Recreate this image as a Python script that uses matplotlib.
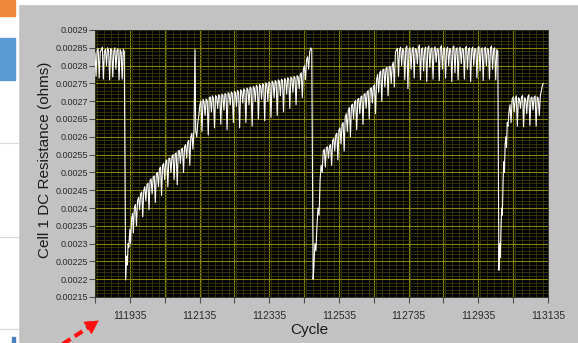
import numpy as np
import matplotlib
matplotlib.use('Agg')
import matplotlib.pyplot as plt
from matplotlib.patches import Rectangle
from matplotlib.lines import Line2D

plt.rcParams['font.family'] = ['Liberation Sans', 'DejaVu Sans']

# resistance in micro-ohms (cycle, value)
first_plateau = [
    (111835, 2835), (111838, 2770), (111841, 2842), (111844, 2848), (111847, 2765),
    (111850, 2838), (111853, 2845), (111856, 2852), (111859, 2762), (111862, 2840),
    (111865, 2846), (111868, 2800), (111871, 2850), (111874, 2842), (111877, 2760),
    (111880, 2848), (111883, 2845), (111886, 2768), (111889, 2840), (111892, 2850),
    (111895, 2790), (111898, 2843), (111901, 2847), (111904, 2760), (111907, 2845),
    (111910, 2838), (111913, 2762), (111916, 2846), (111919, 2840),
]

first_recovery = [
    (111923, 2198), (111926, 2265), (111928, 2240), (111930, 2300), (111932, 2290),
    (111935, 2340), (111937, 2300), (111940, 2370), (111943, 2385), (111945, 2330),
    (111948, 2400), (111951, 2410), (111954, 2350), (111957, 2420), (111960, 2430),
    (111963, 2395), (111966, 2440), (111969, 2445), (111972, 2375), (111975, 2450),
    (111978, 2460), (111981, 2420), (111984, 2465), (111987, 2470), (111990, 2395),
    (111993, 2478), (111996, 2482), (111999, 2440), (112002, 2488), (112005, 2490),
    (112008, 2415), (112011, 2495), (112014, 2500), (112017, 2460), (112020, 2510),
    (112023, 2515), (112026, 2435), (112029, 2520), (112032, 2525), (112035, 2480),
    (112038, 2530), (112041, 2535), (112044, 2460), (112047, 2540), (112050, 2540),
    (112053, 2500), (112056, 2545), (112059, 2550), (112062, 2480), (112065, 2552),
    (112068, 2555), (112071, 2465), (112074, 2560), (112077, 2562), (112080, 2525),
    (112083, 2565), (112086, 2568), (112089, 2500), (112092, 2572), (112095, 2578),
    (112098, 2540), (112101, 2585), (112104, 2590), (112107, 2520), (112110, 2600),
    (112113, 2610), (112116, 2565), (112119, 2620), (112122, 2845),
]

second_plateau = [
    (112124, 2615), (112127, 2600), (112130, 2640), (112133, 2660), (112136, 2690),
    (112139, 2700), (112142, 2615), (112145, 2705), (112148, 2698), (112151, 2660),
    (112154, 2706), (112157, 2702), (112160, 2605), (112163, 2710), (112166, 2712),
    (112169, 2670), (112172, 2715), (112175, 2708), (112178, 2625), (112181, 2716),
    (112184, 2712), (112187, 2680), (112190, 2718), (112193, 2715), (112196, 2635),
    (112199, 2720), (112202, 2716), (112205, 2675), (112208, 2722), (112211, 2718),
    (112214, 2620), (112217, 2724), (112220, 2720), (112223, 2690), (112226, 2726),
    (112229, 2722), (112232, 2640), (112235, 2728), (112238, 2724), (112241, 2685),
    (112244, 2730), (112247, 2726), (112250, 2625), (112253, 2732), (112256, 2728),
    (112259, 2695), (112262, 2735), (112265, 2730), (112268, 2640), (112271, 2737),
    (112274, 2733), (112277, 2690), (112280, 2740), (112283, 2736), (112286, 2630),
    (112289, 2742), (112292, 2738), (112295, 2700), (112298, 2745), (112301, 2740),
    (112304, 2650), (112307, 2747), (112310, 2743), (112313, 2705), (112316, 2750),
    (112319, 2745), (112322, 2645), (112325, 2752), (112328, 2748), (112331, 2700),
    (112334, 2754), (112337, 2750), (112340, 2655), (112343, 2756), (112346, 2752),
    (112349, 2710), (112352, 2758), (112355, 2754), (112358, 2660), (112361, 2760),
    (112364, 2756), (112367, 2715), (112370, 2762), (112373, 2758), (112376, 2670),
    (112379, 2764), (112382, 2760), (112385, 2720), (112388, 2766), (112391, 2762),
    (112394, 2680), (112397, 2768), (112400, 2764), (112403, 2725), (112406, 2770),
    (112409, 2766), (112412, 2690), (112415, 2772), (112418, 2768), (112421, 2735),
    (112424, 2775), (112427, 2780), (112430, 2710), (112433, 2790), (112436, 2800),
    (112439, 2760), (112442, 2815), (112445, 2825), (112448, 2790), (112451, 2838),
    (112454, 2850), (112457, 2845),
]

second_recovery = [
    (112461, 2200), (112463, 2230), (112466, 2300), (112469, 2280), (112472, 2350),
    (112475, 2400), (112478, 2380), (112481, 2480), (112484, 2520), (112487, 2500),
    (112490, 2560), (112493, 2565), (112496, 2515), (112499, 2570), (112502, 2572),
    (112505, 2540), (112508, 2575), (112511, 2578), (112514, 2520), (112517, 2590),
    (112520, 2595), (112523, 2560), (112526, 2605), (112529, 2610), (112532, 2535),
    (112535, 2620), (112538, 2625), (112541, 2580), (112544, 2635), (112547, 2640),
    (112550, 2560), (112553, 2655), (112556, 2665), (112559, 2615), (112562, 2675),
    (112565, 2682), (112568, 2600), (112571, 2688), (112574, 2692), (112577, 2650),
    (112580, 2698), (112583, 2702), (112586, 2620), (112589, 2705), (112592, 2708),
    (112595, 2665), (112598, 2712), (112601, 2715), (112604, 2635), (112607, 2718),
    (112610, 2722), (112613, 2680), (112616, 2726), (112619, 2730), (112622, 2650),
    (112625, 2734), (112628, 2738), (112631, 2695), (112634, 2742), (112637, 2746),
    (112640, 2665), (112643, 2760), (112646, 2775), (112649, 2725), (112652, 2780),
    (112655, 2785), (112658, 2700), (112661, 2788), (112664, 2790), (112667, 2740),
    (112670, 2792), (112673, 2795), (112676, 2715), (112679, 2796), (112682, 2798),
    (112685, 2750), (112688, 2800), (112691, 2810), (112694, 2740), (112697, 2835),
    (112700, 2845),
]

third_plateau = [
    (112703, 2848), (112706, 2770), (112709, 2845), (112712, 2852), (112715, 2800),
    (112718, 2848), (112721, 2842), (112724, 2760), (112727, 2850), (112730, 2855),
    (112733, 2735), (112736, 2846), (112739, 2850), (112742, 2790), (112745, 2844),
    (112748, 2852), (112751, 2765), (112754, 2848), (112757, 2845), (112760, 2805),
    (112763, 2850), (112766, 2858), (112769, 2760), (112772, 2846), (112775, 2850),
    (112778, 2785), (112781, 2845), (112784, 2852), (112787, 2755), (112790, 2848),
    (112793, 2855), (112796, 2795), (112799, 2846), (112802, 2850), (112805, 2762),
    (112808, 2844), (112811, 2853), (112814, 2810), (112817, 2848), (112820, 2845),
    (112823, 2758), (112826, 2850), (112829, 2856), (112832, 2790), (112835, 2847),
    (112838, 2850), (112841, 2765), (112844, 2845), (112847, 2852), (112850, 2800),
    (112853, 2848), (112856, 2844), (112859, 2755), (112862, 2850), (112865, 2855),
    (112868, 2780), (112871, 2846), (112874, 2850), (112877, 2760), (112880, 2845),
    (112883, 2852), (112886, 2805), (112889, 2848), (112892, 2845), (112895, 2762),
    (112898, 2850), (112901, 2854), (112904, 2790), (112907, 2847), (112910, 2850),
    (112913, 2755), (112916, 2845), (112919, 2852), (112922, 2800), (112925, 2848),
    (112928, 2845), (112931, 2765), (112934, 2850), (112937, 2853), (112940, 2785),
    (112943, 2846), (112946, 2850), (112949, 2758), (112952, 2845), (112955, 2852),
    (112958, 2800), (112961, 2848), (112964, 2845), (112967, 2762), (112970, 2850),
    (112973, 2855), (112976, 2790), (112979, 2846), (112982, 2850), (112985, 2760),
    (112988, 2845), (112991, 2840),
]

third_recovery = [
    (112994, 2225), (112996, 2300), (112998, 2260), (113000, 2340), (113002, 2400),
    (113004, 2380), (113006, 2470), (113008, 2530), (113010, 2500), (113012, 2580),
    (113014, 2600), (113016, 2570), (113018, 2640), (113020, 2630), (113023, 2670),
    (113026, 2690), (113029, 2640), (113032, 2705), (113035, 2712), (113038, 2670),
    (113041, 2708), (113044, 2715), (113047, 2630), (113050, 2710), (113053, 2706),
    (113056, 2680), (113059, 2712), (113062, 2716), (113065, 2628), (113068, 2710),
    (113071, 2705), (113074, 2665), (113077, 2712), (113080, 2718), (113083, 2632),
    (113086, 2708), (113089, 2712), (113092, 2675), (113095, 2710), (113098, 2715),
    (113101, 2630), (113104, 2712), (113107, 2708), (113110, 2660), (113113, 2715),
    (113116, 2730), (113119, 2745), (113121, 2750),
]

x_ticks = [111835, 111935, 112035, 112135, 112235, 112335, 112435, 112535,
           112635, 112735, 112835, 112935, 113035, 113135]
x_tick_labels = ['', '111935', '', '112135', '', '112335', '', '112535',
                 '', '112735', '', '112935', '', '113135']
y_ticks = [0.00215, 0.0022, 0.00225, 0.0023, 0.00235, 0.0024, 0.00245, 0.0025,
           0.00255, 0.0026, 0.00265, 0.0027, 0.00275, 0.0028, 0.00285, 0.0029]
y_tick_labels = ['0.00215', '0.0022', '0.00225', '0.0023', '0.00235', '0.0024',
                 '0.00245', '0.0025', '0.00255', '0.0026', '0.00265', '0.0027',
                 '0.00275', '0.0028', '0.00285', '0.0029']

points = first_plateau + first_recovery + second_plateau + second_recovery + third_plateau + third_recovery
cycle = np.array([p[0] for p in points])
res = np.array([p[1] for p in points]) / 1e6

fig = plt.figure(figsize=(5.78, 3.43), dpi=100, facecolor='#c2c2c2')
W, H = 578, 343

# bits of the neighbouring window in the screenshot
fig.patches.append(Rectangle((0, 0), 18 / W, 1, transform=fig.transFigure, color='white', zorder=0))
fig.patches.append(Rectangle((0, 1 - 4 / H), 1, 4 / H, transform=fig.transFigure, color='white', zorder=0))
fig.patches.append(Rectangle((0, 1 - 16 / H), 15 / W, 16 / H, transform=fig.transFigure, color='#f0883a', zorder=1))
fig.patches.append(Rectangle((0, 1 - 80 / H), 15 / W, 42 / H, transform=fig.transFigure, color='#5b9bd5', zorder=1))
fig.patches.append(Rectangle((12 / W, 0), 3 / W, 6 / H, transform=fig.transFigure, color='#4a7fc0', zorder=1))
for yy in [143, 237, 329]:
    fig.lines.append(Line2D([0, 18 / W], [1 - yy / H, 1 - yy / H], transform=fig.transFigure,
                            color='#d8d8d8', lw=0.8))

ax = fig.add_axes([95 / W, 1 - 297 / H, 453 / W, 267 / H])
ax.set_facecolor('black')

ax.plot(cycle, res, color='white', lw=0.8, zorder=3)

ax.set_xlim(111835, 113135)
ax.set_ylim(0.00215, 0.0029)
ax.set_xticks(x_ticks)
ax.set_xticklabels(x_tick_labels)
ax.set_yticks(y_ticks)
ax.set_yticklabels(y_tick_labels)
ax.xaxis.set_minor_locator(matplotlib.ticker.MultipleLocator(20))
ax.yaxis.set_minor_locator(matplotlib.ticker.MultipleLocator(0.00001))

ax.grid(which='major', color='#86860a', lw=0.8, zorder=1)
ax.grid(which='minor', color='#3a3a04', lw=0.6, zorder=0)
ax.set_axisbelow(True)

ax.tick_params(which='minor', length=0)
ax.tick_params(axis='y', which='major', length=4, width=0.8, color='#505050',
               labelsize=6.5, labelcolor='#2a2a2a', pad=1)
ax.tick_params(axis='x', which='major', length=4, width=0.8, color='#505050',
               labelsize=7.5, labelcolor='#2a2a2a', pad=6)
for s in ax.spines.values():
    s.set_color('#202020')
    s.set_linewidth(0.6)

fig.text(309 / W, 1 - 330 / H, 'Cycle', ha='center', va='center', fontsize=11, color='#1a1a1a')
fig.text(45 / W, 1 - 160 / H, 'Cell 1 DC Resistance (ohms)', ha='center', va='center',
         rotation=90, fontsize=11, color='#1a1a1a')

# red dashed pointer in the lower left corner
fig.lines.append(Line2D([52 / W, 89 / W], [-8 / H, 16 / H], transform=fig.transFigure,
                        color='#ff1010', lw=3, ls=(0, (2.2, 1.2))))
ax.annotate('', xy=(101, 24), xycoords='figure pixels', xytext=(86, 14),
            textcoords='figure pixels', annotation_clip=False,
            arrowprops=dict(arrowstyle='-|>,head_length=0.9,head_width=0.5',
                            color='#ff1010', lw=0.5))

fig.savefig('out.png', dpi=100, facecolor=fig.get_facecolor())
